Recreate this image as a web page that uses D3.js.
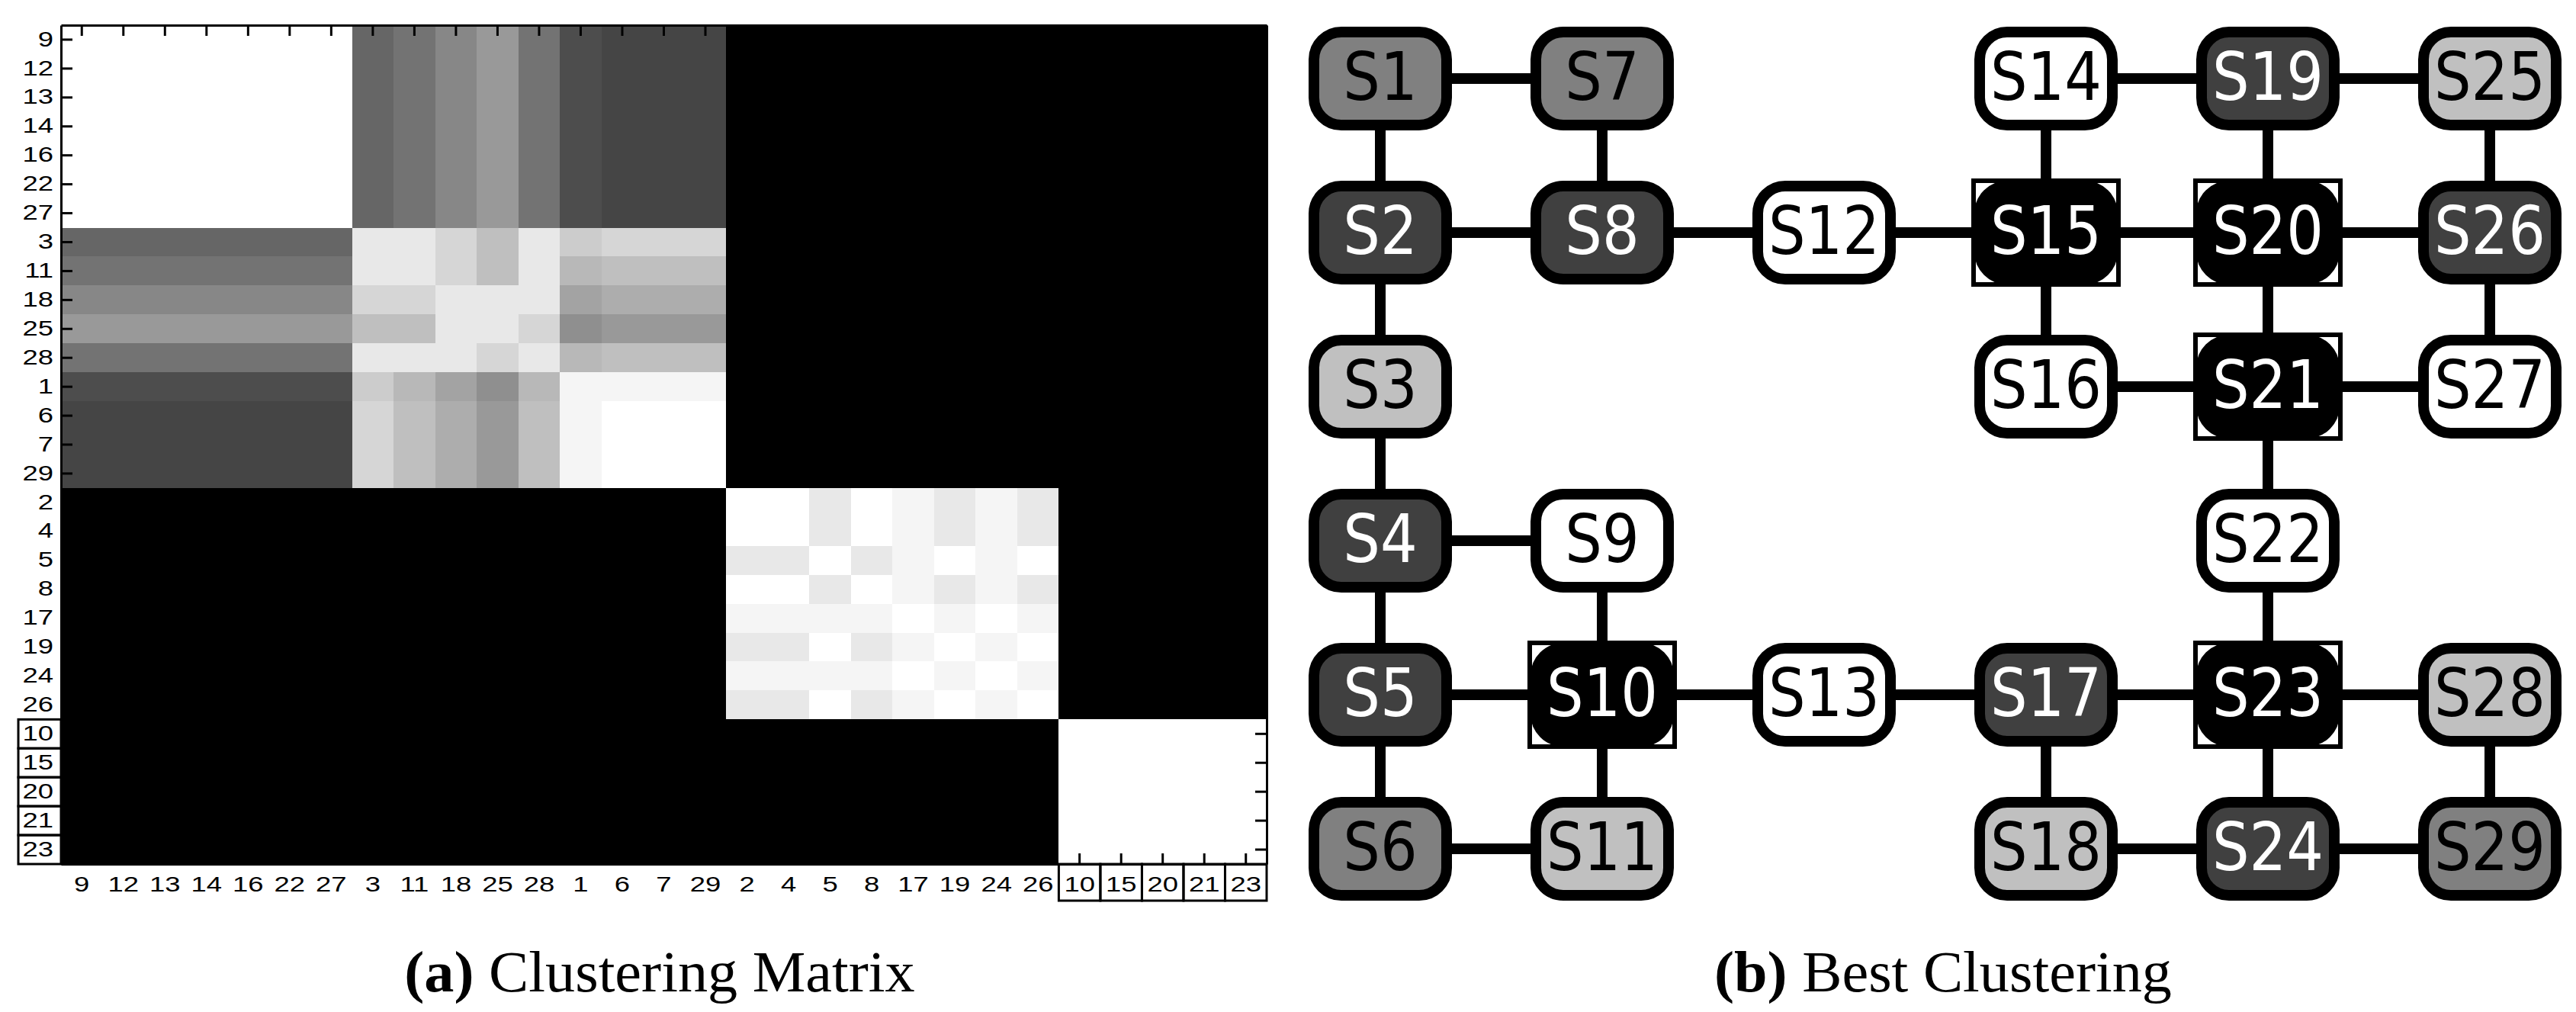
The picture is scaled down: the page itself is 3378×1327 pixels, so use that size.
<!DOCTYPE html>
<html>
<head>
<meta charset="utf-8">
<script src="https://cdn.jsdelivr.net/npm/d3@7"></script>
<style>
  body { margin: 0; background: #fff; }
</style>
</head>
<body>
<div id="chart"></div>
<script>
// clusters found (matrix rows/cols are listed cluster by cluster)
const clusters = [
  [9, 12, 13, 14, 16, 22, 27],
  [3, 11, 18, 25, 28],
  [1, 6, 7, 29],
  [2, 4, 5, 8, 17, 19, 24, 26],
  [10, 15, 20, 21, 23]
];
const order = clusters.flat();
const boxedLabels = [10, 15, 20, 21, 23];

// co-clustering frequency in %, rows and columns in `order`
const coCluster = [
  [100,100,100,100,100,100,100, 40,45,53,60,45, 30,27,27,27, 0,0,0,0,0,0,0,0, 0,0,0,0,0],
  [100,100,100,100,100,100,100, 40,45,53,60,45, 30,27,27,27, 0,0,0,0,0,0,0,0, 0,0,0,0,0],
  [100,100,100,100,100,100,100, 40,45,53,60,45, 30,27,27,27, 0,0,0,0,0,0,0,0, 0,0,0,0,0],
  [100,100,100,100,100,100,100, 40,45,53,60,45, 30,27,27,27, 0,0,0,0,0,0,0,0, 0,0,0,0,0],
  [100,100,100,100,100,100,100, 40,45,53,60,45, 30,27,27,27, 0,0,0,0,0,0,0,0, 0,0,0,0,0],
  [100,100,100,100,100,100,100, 40,45,53,60,45, 30,27,27,27, 0,0,0,0,0,0,0,0, 0,0,0,0,0],
  [100,100,100,100,100,100,100, 40,45,53,60,45, 30,27,27,27, 0,0,0,0,0,0,0,0, 0,0,0,0,0],
  [40,40,40,40,40,40,40, 91,91,84,75,91, 80,84,84,84, 0,0,0,0,0,0,0,0, 0,0,0,0,0],
  [45,45,45,45,45,45,45, 91,91,84,75,91, 72,75,75,75, 0,0,0,0,0,0,0,0, 0,0,0,0,0],
  [53,53,53,53,53,53,53, 84,84,91,91,91, 64,68,68,68, 0,0,0,0,0,0,0,0, 0,0,0,0,0],
  [60,60,60,60,60,60,60, 75,75,91,91,84, 56,60,60,60, 0,0,0,0,0,0,0,0, 0,0,0,0,0],
  [45,45,45,45,45,45,45, 91,91,91,84,91, 72,75,75,75, 0,0,0,0,0,0,0,0, 0,0,0,0,0],
  [30,30,30,30,30,30,30, 80,72,64,56,72, 96,96,96,96, 0,0,0,0,0,0,0,0, 0,0,0,0,0],
  [27,27,27,27,27,27,27, 84,75,68,60,75, 96,100,100,100, 0,0,0,0,0,0,0,0, 0,0,0,0,0],
  [27,27,27,27,27,27,27, 84,75,68,60,75, 96,100,100,100, 0,0,0,0,0,0,0,0, 0,0,0,0,0],
  [27,27,27,27,27,27,27, 84,75,68,60,75, 96,100,100,100, 0,0,0,0,0,0,0,0, 0,0,0,0,0],
  [0,0,0,0,0,0,0, 0,0,0,0,0, 0,0,0,0, 100,100,91,100,96,91,96,91, 0,0,0,0,0],
  [0,0,0,0,0,0,0, 0,0,0,0,0, 0,0,0,0, 100,100,91,100,96,91,96,91, 0,0,0,0,0],
  [0,0,0,0,0,0,0, 0,0,0,0,0, 0,0,0,0, 91,91,100,91,96,100,96,100, 0,0,0,0,0],
  [0,0,0,0,0,0,0, 0,0,0,0,0, 0,0,0,0, 100,100,91,100,96,91,96,91, 0,0,0,0,0],
  [0,0,0,0,0,0,0, 0,0,0,0,0, 0,0,0,0, 96,96,96,96,100,96,100,96, 0,0,0,0,0],
  [0,0,0,0,0,0,0, 0,0,0,0,0, 0,0,0,0, 91,91,100,91,96,100,96,100, 0,0,0,0,0],
  [0,0,0,0,0,0,0, 0,0,0,0,0, 0,0,0,0, 96,96,96,96,100,96,100,96, 0,0,0,0,0],
  [0,0,0,0,0,0,0, 0,0,0,0,0, 0,0,0,0, 91,91,100,91,96,100,96,100, 0,0,0,0,0],
  [0,0,0,0,0,0,0, 0,0,0,0,0, 0,0,0,0, 0,0,0,0,0,0,0,0, 100,100,100,100,100],
  [0,0,0,0,0,0,0, 0,0,0,0,0, 0,0,0,0, 0,0,0,0,0,0,0,0, 100,100,100,100,100],
  [0,0,0,0,0,0,0, 0,0,0,0,0, 0,0,0,0, 0,0,0,0,0,0,0,0, 100,100,100,100,100],
  [0,0,0,0,0,0,0, 0,0,0,0,0, 0,0,0,0, 0,0,0,0,0,0,0,0, 100,100,100,100,100],
  [0,0,0,0,0,0,0, 0,0,0,0,0, 0,0,0,0, 0,0,0,0,0,0,0,0, 100,100,100,100,100]
];

// grid of switches S1..S29 (column / row index in the grid)
const nodeNames = ['S1','S2','S3','S4','S5','S6','S7','S8','S9','S10','S11','S12','S13','S14','S15',
  'S16','S17','S18','S19','S20','S21','S22','S23','S24','S25','S26','S27','S28','S29'];
const nodeCol = [0,0,0,0,0,0, 1,1,1,1,1, 2,2, 3,3,3,3,3, 4,4,4,4,4,4, 5,5,5,5,5];
const nodeRow = [0,1,2,3,4,5, 0,1,3,4,5, 1,4, 0,1,2,4,5, 0,1,2,3,4,5, 0,1,2,4,5];
const edges = [
  [1,7],[1,2],[7,8],[2,8],[2,3],[3,4],[8,12],[12,15],[4,9],[4,5],[9,10],[5,10],[5,6],
  [6,11],[10,11],[10,13],[13,17],[17,23],[17,18],[14,19],[19,25],[14,15],[19,20],[25,26],
  [15,20],[20,26],[15,16],[20,21],[26,27],[16,21],[21,27],[21,22],[22,23],[23,28],[23,24],
  [28,29],[18,24],[24,29]
];

const clusterFill = ['#ffffff', '#c0c0c0', '#808080', '#404040', '#000000'];
const clusterText = ['#000000', '#000000', '#000000', '#ffffff', '#ffffff'];

const W = 3378, H = 1327;
const svg = d3.select('#chart').append('svg')
  .attr('width', W).attr('height', H)
  .style('background', '#fff');

// ---------- (a) clustering matrix ----------
const mx = d3.scaleBand().domain(order).range([80, 1661]);
const my = d3.scaleBand().domain(order).range([33, 1133]);
const shade = d3.scaleLinear().domain([0, 100]).range(['#000000', '#ffffff']);

const cells = [];
coCluster.forEach((row, i) => row.forEach((v, j) => cells.push({ r: order[i], c: order[j], v })));

svg.append('g').selectAll('rect')
  .data(cells)
  .enter()
  .append('rect')
  .attr('x', d => mx(d.c))
  .attr('y', d => my(d.r))
  .attr('width', mx.bandwidth() + 0.6)
  .attr('height', my.bandwidth() + 0.6)
  .attr('fill', d => shade(d.v))
  .attr('shape-rendering', 'crispEdges');

const styleAxis = g => {
  g.attr('font-family', '"Liberation Sans", Arial, sans-serif').attr('font-size', 27);
  g.select('.domain').attr('stroke-width', 3);
  g.selectAll('.tick line').attr('stroke-width', 3);
};

svg.append('g')
  .attr('transform', 'translate(80,0)')
  .call(d3.axisLeft(my).tickSize(-15).tickSizeOuter(0).tickPadding(10))
  .call(styleAxis)
  .selectAll('text')
  .attr('x', -10 / 1.35)
  .attr('transform', 'scale(1.35,1)');

svg.append('g')
  .attr('transform', 'translate(0,1133)')
  .call(d3.axisBottom(mx).tickSize(-14).tickSizeOuter(0).tickPadding(17))
  .call(styleAxis)
  .selectAll('text')
  .attr('transform', 'scale(1.35,1)');

svg.append('g')
  .attr('transform', 'translate(0,33)')
  .call(d3.axisTop(mx).tickSize(-14).tickSizeOuter(0).tickFormat(''))
  .call(styleAxis);

svg.append('g')
  .attr('transform', 'translate(1661,0)')
  .call(d3.axisRight(my).tickSize(-15).tickSizeOuter(0).tickFormat(''))
  .call(styleAxis);

// boxes around the labels of the highlighted cluster
svg.append('g').selectAll('rect')
  .data(boxedLabels)
  .enter()
  .append('rect')
  .attr('x', d => mx(d))
  .attr('y', 1133)
  .attr('width', mx.bandwidth())
  .attr('height', 48)
  .attr('fill', 'none')
  .attr('stroke', '#000')
  .attr('stroke-width', 3);

svg.append('g').selectAll('rect')
  .data(boxedLabels)
  .enter()
  .append('rect')
  .attr('x', 24)
  .attr('y', d => my(d))
  .attr('width', 56)
  .attr('height', my.bandwidth())
  .attr('fill', 'none')
  .attr('stroke', '#000')
  .attr('stroke-width', 3);

// ---------- (b) best clustering graph ----------
const gx = d3.scaleLinear().domain([0, 5]).range([1810, 3265]);
const gy = d3.scaleLinear().domain([0, 5]).range([103, 1113]);

const nodes = nodeNames.map((name, i) => ({
  name,
  x: gx(nodeCol[i]),
  y: gy(nodeRow[i]),
  k: clusters.findIndex(c => c.includes(i + 1))
}));

svg.append('g').selectAll('line')
  .data(edges)
  .enter()
  .append('line')
  .attr('x1', d => nodes[d[0] - 1].x)
  .attr('y1', d => nodes[d[0] - 1].y)
  .attr('x2', d => nodes[d[1] - 1].x)
  .attr('y2', d => nodes[d[1] - 1].y)
  .attr('stroke', '#000')
  .attr('stroke-width', 14);

const node = svg.append('g').selectAll('g')
  .data(nodes)
  .enter()
  .append('g')
  .attr('transform', d => `translate(${d.x},${d.y})`);

node.append('rect')
  .attr('x', -87).attr('y', -61)
  .attr('width', 174).attr('height', 122)
  .attr('rx', 36).attr('ry', 36)
  .attr('fill', d => clusterFill[d.k])
  .attr('stroke', '#000')
  .attr('stroke-width', 14);

node.filter(d => d.k === 4)
  .append('rect')
  .attr('x', -95).attr('y', -68)
  .attr('width', 190).attr('height', 136)
  .attr('fill', 'none')
  .attr('stroke', '#000')
  .attr('stroke-width', 6);

node.append('text')
  .text(d => d.name)
  .attr('transform', 'translate(0,28) scale(0.87,1)')
  .attr('text-anchor', 'middle')
  .style('font-family', '"DejaVu Sans", sans-serif')
  .style('font-size', '88px')
  .style('fill', d => clusterText[d.k]);

// ---------- captions ----------
const caption = (x, tag, label) => {
  const t = svg.append('text')
    .attr('transform', `translate(${x},1300) scale(1.03,1)`)
    .attr('text-anchor', 'middle')
    .style('font-family', '"Liberation Serif", "Times New Roman", serif')
    .style('font-size', '76px');
  t.append('tspan').style('font-weight', 'bold').text(tag);
  t.append('tspan').text(' ' + label);
};
caption(865, '(a)', 'Clustering Matrix');
caption(2548, '(b)', 'Best Clustering');
</script>
</body>
</html>
